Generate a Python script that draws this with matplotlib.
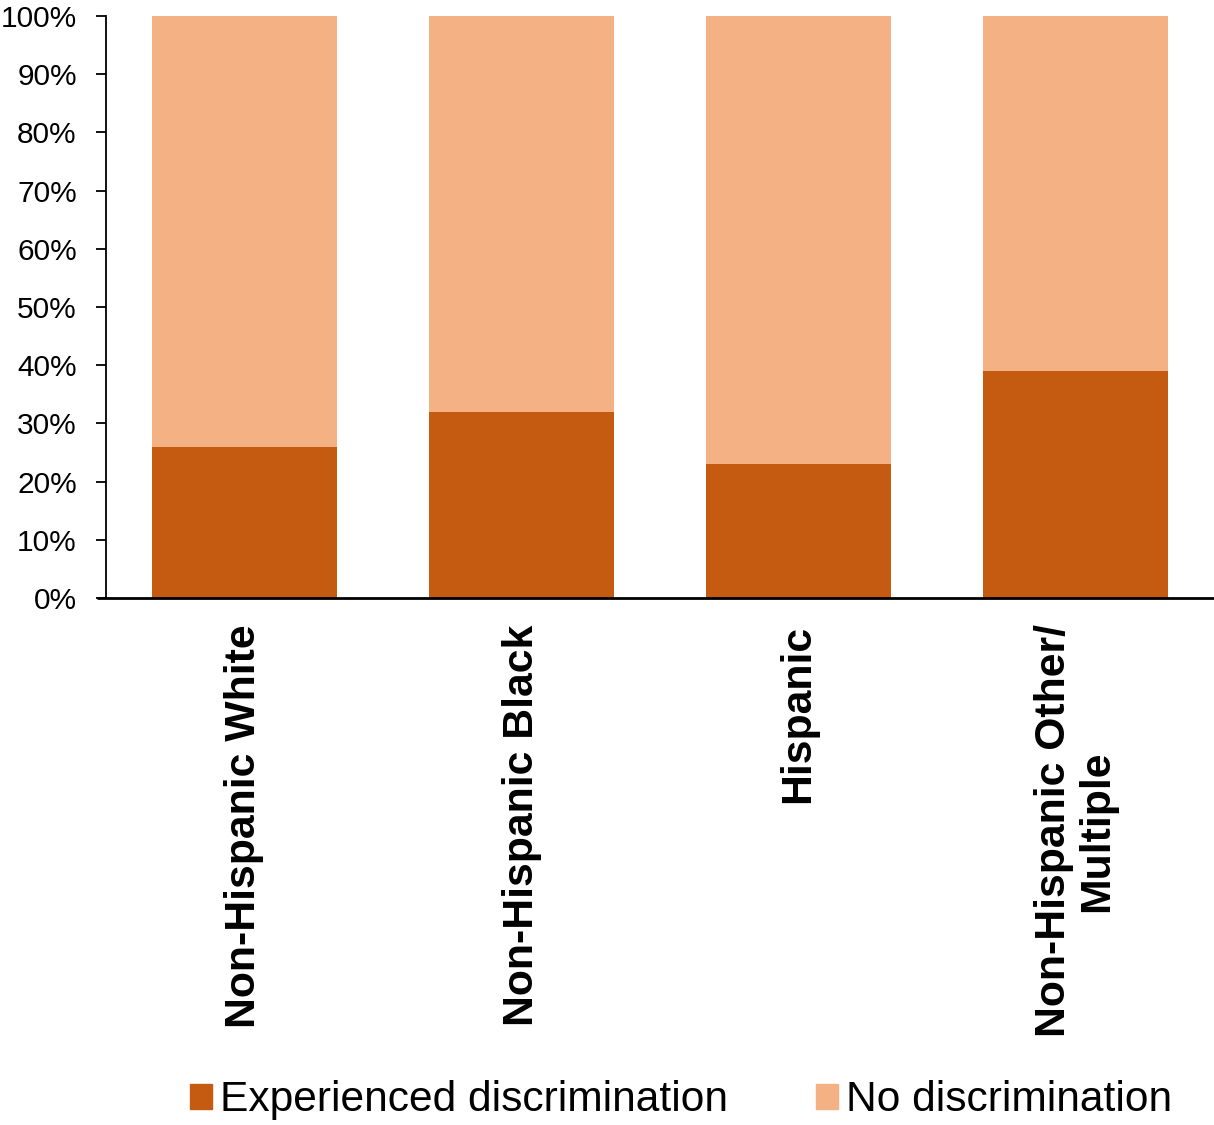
import matplotlib.pyplot as plt
from matplotlib.patches import Patch

plt.rcParams['font.family'] = ['Liberation Sans', 'DejaVu Sans']

groups = ["Non-Hispanic White", "Non-Hispanic Black", "Hispanic",
          "Non-Hispanic Other/\nMultiple"]
experienced = [26, 32, 23, 39]
no_discrim = [100 - v for v in experienced]

dark = "#C55A11"
light = "#F4B183"

fig = plt.figure(figsize=(12.14, 11.25), dpi=100)
ax = fig.add_axes([106 / 1214, 1 - 598 / 1125, 1 - 106 / 1214, (598 - 16) / 1125])

x = range(len(groups))
ax.bar(x, experienced, width=0.665, color=dark)
ax.bar(x, no_discrim, bottom=experienced, width=0.665, color=light)

ax.set_xlim(-0.5, 3.5)
ax.set_ylim(0, 100)
ax.set_yticks(range(0, 101, 10))
ax.set_yticklabels([f"{v}%" for v in range(0, 101, 10)], fontsize=21.5)
ax.tick_params(axis='y', length=7, width=1.3, pad=14)

ax.set_xticks(list(x))
ax.set_xticklabels(groups, rotation=90, fontsize=30.8, fontweight='bold',
                   ha='center', va='top', linespacing=1.1)
ax.tick_params(axis='x', length=0, pad=19)

for s in ["top", "right"]:
    ax.spines[s].set_visible(False)
ax.spines["left"].set_linewidth(1.3)
ax.spines["bottom"].set_visible(False)
# baseline runs under the left tick marks as well
ax.plot([-9 / 1108, 1], [0, 0], transform=ax.transAxes, color="black",
        lw=2, clip_on=False, solid_capstyle='butt')

handles = [Patch(color=dark, label="Experienced discrimination"),
           Patch(color=light, label="No discrimination")]
fig.legend(handles=handles, loc="center", bbox_to_anchor=(0.561, 0.022),
           ncol=2, frameon=False, fontsize=30.6, handlelength=0.52,
           handleheight=0.52, handletextpad=0.2, columnspacing=2.05)

fig.savefig("out.png", dpi=100)
